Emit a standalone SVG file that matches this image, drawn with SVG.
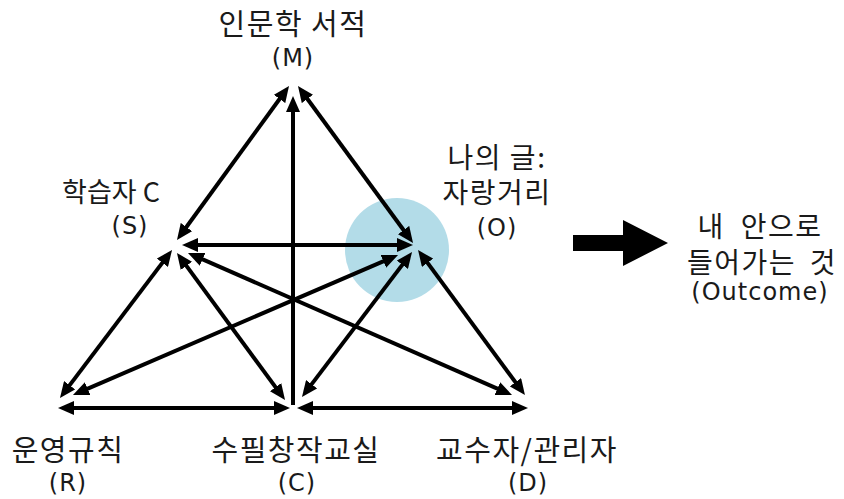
<svg xmlns="http://www.w3.org/2000/svg" width="844" height="499" viewBox="0 0 844 499">
<style>
.t{font-family:"Noto Sans CJK KR","Noto Sans",sans-serif;font-size:29px;letter-spacing:1.5px;fill:#1a1a1a;text-anchor:middle}
.l{font-family:"DejaVu Sans","Noto Sans",sans-serif;font-size:24px;letter-spacing:1px;fill:#1a1a1a;text-anchor:middle}
.c line{stroke:#000;stroke-width:4;marker-start:url(#ah);marker-end:url(#ah)}
</style>
<defs>
<marker id="ah" viewBox="0 0 16 14" refX="8" refY="7" markerWidth="16" markerHeight="14" markerUnits="userSpaceOnUse" orient="auto-start-reverse">
<path d="M0,0 L16,7 L0,14 z" fill="#000"/>
</marker>
</defs>
<rect width="844" height="499" fill="#fff"/>
<circle cx="397" cy="250" r="52" fill="#b3dce8"/>
<g class="c" id="connectors">
<line x1="284.3" y1="92.5" x2="181.7" y2="233.5"/>
<line x1="293" y1="104" x2="293" y2="405" style="marker-end:none"/>
<line x1="302.7" y1="92.5" x2="408.3" y2="236.5"/>
<line x1="190" y1="245" x2="405" y2="245"/>
<line x1="167.2" y1="256.4" x2="64.8" y2="391.6"/>
<line x1="181.7" y1="259.4" x2="280.3" y2="393.6"/>
<line x1="195.3" y1="256.2" x2="504.7" y2="391.8"/>
<line x1="390.7" y1="258.2" x2="80.3" y2="391.8"/>
<line x1="407.2" y1="258.4" x2="306.8" y2="390.6"/>
<line x1="422.8" y1="256.4" x2="520.2" y2="388.6"/>
<line x1="66" y1="408" x2="282" y2="408"/>
<line x1="305" y1="408" x2="520" y2="408"/>
</g>
<g id="node-M">
<text class="t" x="293" y="35">인문학 서적</text>
<text class="l" x="293" y="66">(M)</text>
</g>
<g id="node-S">
<text class="t" x="111" y="202" style="font-size:27px;letter-spacing:0">학습자 C</text>
<text class="l" x="130" y="234">(S)</text>
</g>
<g id="node-O">
<text class="t" x="497" y="168" style="font-size:28px">나의 글:</text>
<text class="t" x="497" y="203" style="font-size:28px">자랑거리</text>
<text class="l" x="497" y="236">(O)</text>
</g>
<g id="node-R">
<text class="t" x="68" y="461">운영규칙</text>
<text class="l" x="68" y="491">(R)</text>
</g>
<g id="node-C">
<text class="t" x="296" y="461">수필창작교실</text>
<text class="l" x="297" y="491">(C)</text>
</g>
<g id="node-D">
<text class="t" x="527" y="461">교수자/관리자</text>
<text class="l" x="528" y="491">(D)</text>
</g>
<g id="outcome">
<polygon points="573,235 623,235 623,220 668,243 623,266 623,251 573,251" fill="#000"/>
<text class="t" x="760" y="237" style="font-size:28px;word-spacing:8px">내 안으로</text>
<text class="t" x="762" y="273" style="font-size:28px;word-spacing:6px">들어가는 것</text>
<text class="l" x="760" y="300">(Outcome)</text>
</g>
</svg>
